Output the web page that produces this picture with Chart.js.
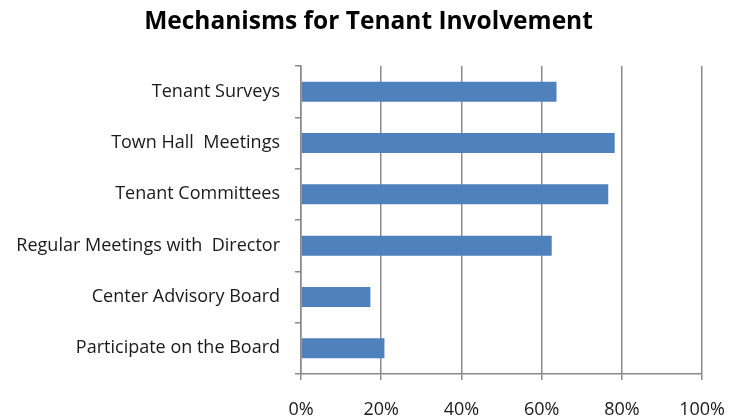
<!DOCTYPE html>
<html>
<head>
<meta charset="utf-8">
<script src="https://cdn.jsdelivr.net/npm/chart.js@4"></script>
<style>
  html, body { margin: 0; padding: 0; background: #fff; }
  #wrap { width: 742px; height: 417px; }
</style>
</head>
<body>
<div id="wrap"><canvas id="graficoMecanismos" width="742" height="417"></canvas></div>
<script>
const mechanisms = [
    'Tenant Surveys',
    'Town Hall  Meetings',
    'Tenant Committees',
    'Regular Meetings with  Director',
    'Center Advisory Board',
    'Participate on the Board'
];
const percentInvolved = [63.7, 78.2, 76.6, 62.5, 17.3, 20.8];
const tickSteps = [0, 20, 40, 60, 80, 100];

const gridGray = '#8a8a8a';
const labelFont = { family: '"Open Sans", sans-serif', size: 18, lineHeight: 1.2 };

document.addEventListener('DOMContentLoaded', function () {
    const ctx = document.getElementById('graficoMecanismos').getContext('2d');
    new Chart(ctx, {
        type: 'bar',
        data: {
            labels: mechanisms,
            datasets: [{
                label: 'Mechanisms',
                data: percentInvolved,
                backgroundColor: '#4F81BD',
                borderWidth: 0,
                categoryPercentage: 1,
                barPercentage: 0.39
            }]
        },
        options: {
            indexAxis: 'y',
            responsive: false,
            animation: false,
            // right edge of the plot is set by the "100%" label overflow
            layout: { padding: { left: 0, right: 5, top: 0, bottom: 0 } },
            plugins: {
                legend: { display: false },
                tooltip: { enabled: false },
                title: {
                    display: true,
                    text: 'Mechanisms for Tenant Involvement',
                    color: '#000',
                    font: { family: '"Open Sans", sans-serif', size: 24.5, weight: 'bold', lineHeight: 1.2 },
                    padding: { top: 7.3, bottom: 29.3 }
                }
            },
            scales: {
                x: {
                    min: 0,
                    max: 100,
                    afterBuildTicks: function (scale) {
                        scale.ticks = tickSteps.map(v => ({ value: v }));
                    },
                    afterFit: function (scale) { scale.height = 43; },
                    ticks: {
                        color: '#1a1a1a',
                        font: { family: '"Open Sans", sans-serif', size: 18, lineHeight: 1.39 },
                        padding: 17,
                        maxRotation: 0,
                        callback: v => v + '%'
                    },
                    grid: {
                        color: gridGray,
                        lineWidth: 1.5,
                        drawTicks: true,
                        tickLength: 6
                    },
                    border: { color: gridGray, width: 1.5 }
                },
                y: {
                    afterFit: function (scale) { scale.width = 301; },
                    ticks: {
                        color: '#1a1a1a',
                        font: labelFont,
                        padding: 15
                    },
                    grid: {
                        color: gridGray,
                        lineWidth: 1.5,
                        drawOnChartArea: false,
                        drawTicks: true,
                        tickLength: 6
                    },
                    border: { color: gridGray, width: 1.5 }
                }
            }
        }
    });
});
</script>
</body>
</html>
